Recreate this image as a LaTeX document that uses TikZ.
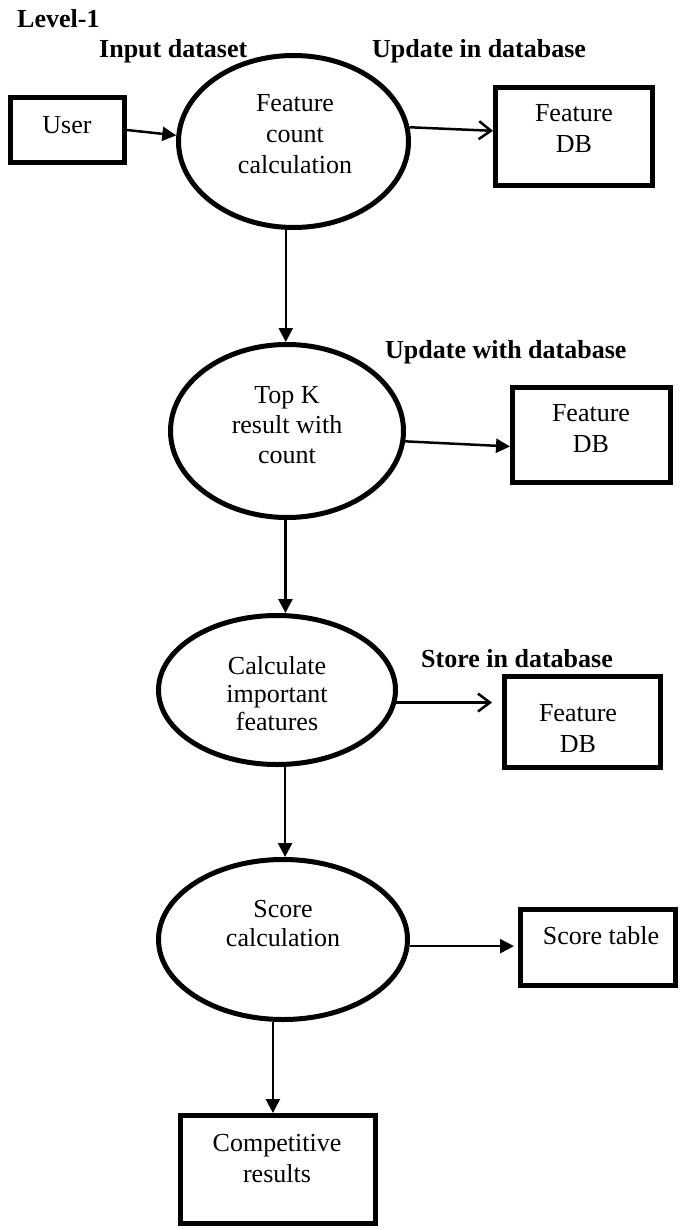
\documentclass[tikz,border=0pt]{standalone}
\usepackage{fontspec}
\setmainfont{Liberation Serif}
\usetikzlibrary{shapes.geometric,arrows.meta}
\begin{document}
\begin{tikzpicture}[x=1pt,y=-1pt,
  every node/.style={font=\fontsize{26}{31}\selectfont, inner sep=0pt},
  box/.style={draw, line width=5pt, rectangle},
  proc/.style={draw, ellipse, line width=5pt},
  txt/.style={align=center},
  lbl/.style={font=\fontsize{26}{31}\selectfont\bfseries, anchor=base west},
  flow/.style={line width=2.5pt, -{Triangle[length=14pt,width=14pt]}},
  oflow/.style={line width=2.5pt, -{Straight Barb[length=12pt,width=18pt]}}
]
\useasboundingbox (0,0) rectangle (681,1230);

% labels
\node[lbl] (lev) at (17,28) {Level-1};
\node[lbl] (lin) at (99,58) {Input dataset};
\node[lbl] (lup1) at (372,58) {Update in database};
\node[lbl] (lup2) at (385,358) {Update with database};
\node[lbl] (lst) at (421,667) {Store in database};

% boxes
\node[box, minimum width=114pt, minimum height=65pt] (user) at (67.5,130) {};
\node[box, minimum width=157pt, minimum height=98pt] (db1) at (574,136.5) {};
\node[box, minimum width=158pt, minimum height=95pt] (db2) at (591.5,435) {};
\node[box, minimum width=156pt, minimum height=91pt] (db3) at (582.5,722) {};
\node[box, minimum width=155pt, minimum height=76pt] (score) at (598,947.5) {};
\node[box, minimum width=195pt, minimum height=108pt] (comp) at (278,1169.5) {};

% processes
\node[proc, minimum width=230pt, minimum height=172pt] (e1) at (293.5,141.5) {};
\node[proc, minimum width=233pt, minimum height=173pt] (e2) at (287,431) {};
\node[proc, minimum width=237pt, minimum height=149pt] (e3) at (277,690) {};
\node[proc, minimum width=249pt, minimum height=160pt] (e4) at (283,939.5) {};

% texts
\node[anchor=base] (tuser) at (67,133.3) {User};
\node[txt] (tdb1) at (574,129) {Feature\\DB};
\node[txt] (tdb2) at (591,428.7) {Feature\\DB};
\node[txt] (tdb3) at (578,729) {Feature\\DB};
\node[anchor=base] (tscore) at (601,944) {Score table};
\node[txt] (tcomp) at (277,1158.6) {Competitive\\results};
\node[txt, font=\fontsize{26}{30.8}\selectfont] (te1) at (295,133.9) {Feature\\count\\calculation};
\node[txt, font=\fontsize{26}{30}\selectfont] (te2) at (287,424.7) {Top K\\result with\\count};
\node[txt, font=\fontsize{26}{28}\selectfont] (te3) at (277,693.6) {Calculate\\important\\features};
\node[txt, font=\fontsize{26}{29.4}\selectfont] (te4) at (283,923.4) {Score\\calculation};

% connectors
\draw[flow] (user.east) -- (e1.177);
\draw[oflow] (e1.7) -- (db1.176);
\draw[flow] (e1.265) -- (e1.265 |- e2.north);
\draw[flow] (e2.-5) -- (db2.188);
\draw[flow] (e2.269) -- (e2.269 |- e3.north);
\draw[oflow, shorten >=10pt] (e3.-6) -- (e3.-6 -| db3.west);
\draw[flow] (e3.276) -- (e3.276 |- e4.north);
\draw[flow, shorten >=4pt] (e4.-3) -- (e4.-3 -| score.west);
\draw[flow] (e4.263) -- (e4.263 |- comp.north);
\end{tikzpicture}
\end{document}
